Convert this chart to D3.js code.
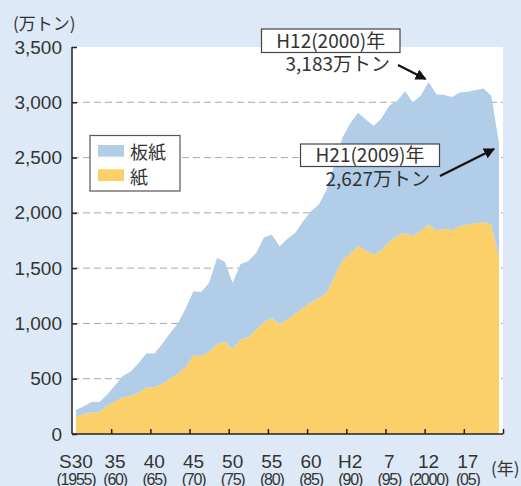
<!DOCTYPE html>
<html><head><meta charset="utf-8">
<script src="https://cdn.jsdelivr.net/npm/d3@7"></script>
<style>
html,body{margin:0;padding:0;background:#dde9f7;}
svg{display:block;font-family:"Noto Sans CJK JP","Liberation Sans",sans-serif;}
</style></head>
<body>
<svg id="chart" width="521" height="486"></svg>
<script>
const years = d3.range(1955, 2010);
const totalValues = [217,252,290,290,358,440,525,565,640,731,
  725,815,912,1000,1135,1290,1284,1368,1592,1558,
  1365,1535,1565,1637,1778,1803,1697,1765,1820,1925,
  2014,2075,2211,2440,2680,2809,2906,2845,2785,2855,
  2970,3015,3100,3000,3060,3183,3072,3066,3047,3088,
  3095,3110,3125,3060,2627];
const paperValues = [157,178,197,197,257,293,329,344,374,420,
  420,453,495,544,604,707,707,742,813,833,
  765,855,876,945,1008,1048,992,1036,1090,1139,
  1187,1229,1275,1425,1567,1631,1697,1661,1622,1661,
  1742,1788,1818,1788,1833,1894,1842,1855,1842,1878,
  1894,1903,1914,1894,1590];
const yTicks = [0,500,1000,1500,2000,2500,3000,3500];
const xTickYears = [1955,1960,1965,1970,1975,1980,1985,1990,1995,2000,2005];
const xLabels1 = ["S30","35","40","45","50","55","60","H2","7","12","17"];
const xLabels2 = ["(1955)","(60)","(65)","(70)","(75)","(80)","(85)","(90)","(95)","(2000)","(05)"];
const seriesNames = ["板紙","紙"];
const colors = {board:"#b1cde8", paper:"#fbd068"};

(function(){
const svg = d3.select("#chart");
const pL = 72, pR = 503, pT = 47, pB = 434;
const x = d3.scaleLinear().domain([1955, 2010]).range([pL, pR]);
const y = d3.scaleLinear().domain([0, 3500]).range([pB, pT]);

svg.append("rect").attr("x", pL).attr("y", pT).attr("width", pR-pL).attr("height", pB-pT).attr("fill", "#fff");

svg.append("g").selectAll("line").data(yTicks.filter(d=>d>0 && d<3500)).join("line")
  .attr("x1", pL).attr("x2", pR).attr("y1", d=>y(d)).attr("y2", d=>y(d))
  .attr("stroke", "#a9a9a9").attr("stroke-width", 1).attr("stroke-dasharray", "7,4");

const data = years.map((yr,i)=>({year:yr, paper:paperValues[i], board:totalValues[i]-paperValues[i]}));
const layers = d3.stack().keys(["paper","board"])(data);
const area = d3.area().x(d=>x(d.data.year+0.5)).y0(d=>y(d[0])).y1(d=>y(d[1]));
svg.append("g").selectAll("path").data(layers).join("path")
  .attr("d", area).attr("fill", d=>colors[d.key]);

const yAxis = d3.axisLeft(y).tickValues(yTicks).tickSize(-5).tickPadding(10).tickFormat(d3.format(","));
const gy = svg.append("g").attr("transform", `translate(${pL},0)`).call(yAxis);
gy.select(".domain").attr("stroke", "#222").attr("stroke-width", 1.5).attr("d", `M0,${pT}V${pB}`);
gy.selectAll(".tick line").attr("stroke", "#222").attr("stroke-width", 1.5);
gy.selectAll(".tick text").attr("font-size", 19).attr("fill", "#333").attr("font-family", "'Liberation Sans',sans-serif");

const xAxis = d3.axisBottom(x).tickValues(xTickYears.slice(1).concat([2010])).tickSize(-5).tickFormat("");
const gx = svg.append("g").attr("transform", `translate(0,${pB})`).call(xAxis);
gx.select(".domain").attr("stroke", "#222").attr("stroke-width", 1.5).attr("d", `M${pL},0H${pR}`);
gx.selectAll(".tick line").attr("stroke", "#222").attr("stroke-width", 1.5);

const lab = svg.append("g").attr("fill", "#333").attr("text-anchor", "middle");
lab.selectAll("text.l1").data(xTickYears).join("text").attr("class","l1")
  .attr("x", d=>x(d+0.5)).attr("y", 468).attr("font-size", 19)
  .attr("font-family", "'Liberation Sans',sans-serif")
  .text((d,i)=>xLabels1[i]);
lab.selectAll("text.l2").data(xTickYears).join("text").attr("class","l2")
  .attr("x", d=>x(d+0.5)).attr("y", 485).attr("font-size", 16).attr("letter-spacing", "-1.2px")
  .attr("font-family", "'Liberation Sans',sans-serif")
  .text((d,i)=>xLabels2[i]);

svg.append("text").attr("x", 13).attr("y", 30).attr("font-size", 17).attr("fill", "#333").text("(万トン)");
svg.append("text").attr("x", 491).attr("y", 475).attr("font-size", 17).attr("fill", "#333").text("(年)");

const lg = svg.append("g");
lg.append("rect").attr("x", 90).attr("y", 135.5).attr("width", 90).attr("height", 55.5)
  .attr("fill", "#fff").attr("stroke", "#555").attr("stroke-width", 1.2);
[colors.board, colors.paper].forEach((c,i)=>{
  lg.append("rect").attr("x", 98).attr("y", 145 + i*24.3).attr("width", 26).attr("height", 11.7).attr("fill", c);
  lg.append("text").attr("x", 130).attr("y", 159 + i*24.5).attr("font-size", 18).attr("fill", "#333").text(seriesNames[i]);
});

svg.append("defs").append("marker").attr("id","arr").attr("viewBox","0 0 10 10").attr("refX",9).attr("refY",5)
  .attr("markerWidth",5).attr("markerHeight",5).attr("orient","auto")
  .append("path").attr("d","M0,0L10,5L0,10z").attr("fill","#111");

function note(bx, by, bw, bh, label, valueText, vx, vy, ax1, ay1, ax2, ay2){
  const g = svg.append("g");
  g.append("rect").attr("x", bx).attr("y", by).attr("width", bw).attr("height", bh)
    .attr("fill", "#fff").attr("stroke", "#444").attr("stroke-width", 1.2);
  g.append("text").attr("x", bx+bw/2).attr("y", by+bh-5).attr("text-anchor","middle")
    .attr("font-size", 19).attr("fill", "#333").text(label);
  g.append("text").attr("x", vx).attr("y", vy).attr("text-anchor","end")
    .attr("font-size", 19).attr("fill", "#333").text(valueText);
  g.append("line").attr("x1", ax1).attr("y1", ay1).attr("x2", ax2).attr("y2", ay2)
    .attr("stroke", "#111").attr("stroke-width", 2.2).attr("marker-end", "url(#arr)");
}
note(261.5, 29, 138.5, 23.5, "H12(2000)年", "3,183万トン", 390, 71, 398, 65, x(2000.5)-3, 79);
note(300.5, 144, 139, 22.5, "H21(2009)年", "2,627万トン", 430, 186, 440, 176, 494, 149);
})();
</script>
</body></html>
